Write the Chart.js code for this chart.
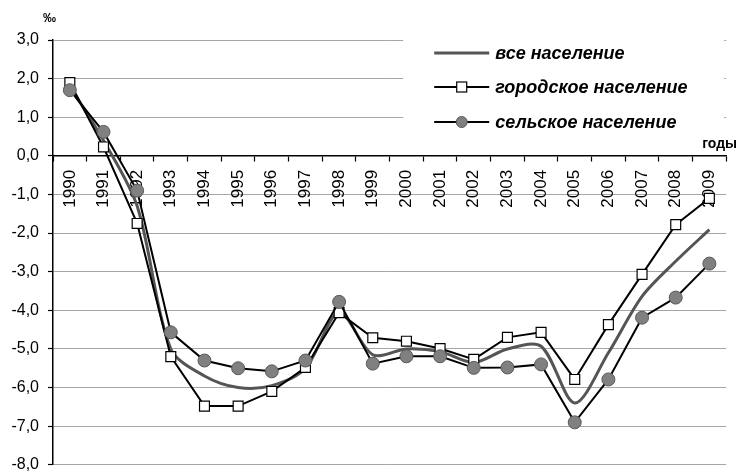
<!DOCTYPE html>
<html>
<head>
<meta charset="utf-8">
<script src="https://cdn.jsdelivr.net/npm/chart.js@4.4.1/dist/chart.umd.min.js"></script>
<style>
  html, body { margin: 0; padding: 0; background: #fff; }
  #wrap { width: 739px; height: 473px; position: relative; }
</style>
</head>
<body>
<div id="wrap"><canvas id="myChart"></canvas></div>
<script>
// data (‰)
const years = ["1990","1991","1992","1993","1994","1995","1996","1997","1998","1999",
               "2000","2001","2002","2003","2004","2005","2006","2007","2008","2009"];
const allPop   = [1.8, 0.4, -1.3, -5.0, -5.7, -6.0, -5.95, -5.5, -4.05, -5.15,
                  -5.0, -5.07, -5.35, -5.0, -4.93, -6.4, -5.1, -3.64, -2.73, -1.91];
const urbanPop = [1.9, 0.23, -1.75, -5.2, -6.48, -6.48, -6.1, -5.48, -4.06, -4.71,
                  -4.8, -4.99, -5.27, -4.7, -4.57, -5.79, -4.37, -3.07, -1.78, -1.1];
const ruralPop = [1.7, 0.62, -0.9, -4.57, -5.3, -5.5, -5.58, -5.3, -3.78, -5.38,
                  -5.19, -5.19, -5.49, -5.48, -5.4, -6.9, -5.79, -4.19, -3.67, -2.79];
const seriesNames = ["все население", "городское население", "сельское население"];

const FONT = "'Liberation Sans', Arial, sans-serif";

const insideLegend = {
  id: "insideLegend",
  afterDatasetsDraw(chart) {
    const ctx = chart.ctx;
    const area = chart.chartArea;
    const x0 = area.right - 323;
    ctx.save();
    ctx.fillStyle = "#fff";
    ctx.fillRect(x0, area.top - 6, 321, 104);

    const rows = [53, 87, 122];
    chart.data.datasets.forEach((ds, i) => {
      const y = rows[i];
      const lx1 = x0 + 31, lx2 = x0 + 86;
      ctx.strokeStyle = ds.borderColor;
      ctx.lineWidth = ds.borderWidth;
      ctx.beginPath();
      ctx.moveTo(lx1, y);
      ctx.lineTo(lx2, y);
      ctx.stroke();
      const cx = (lx1 + lx2) / 2;
      if (ds.pointStyle === "rect") {
        ctx.fillStyle = ds.pointBackgroundColor;
        ctx.fillRect(cx - 5, y - 5, 10, 10);
        ctx.lineWidth = 1.2;
        ctx.strokeStyle = ds.pointBorderColor;
        ctx.strokeRect(cx - 5, y - 5, 10, 10);
      } else if (ds.pointStyle === "circle") {
        ctx.fillStyle = ds.pointBackgroundColor;
        ctx.beginPath();
        ctx.arc(cx, y, 5.5, 0, Math.PI * 2);
        ctx.fill();
        ctx.lineWidth = 1;
        ctx.strokeStyle = ds.pointBorderColor;
        ctx.stroke();
      }
      ctx.fillStyle = "#000";
      ctx.font = "italic bold 18px " + FONT;
      ctx.textBaseline = "middle";
      ctx.textAlign = "left";
      ctx.fillText(ds.label, x0 + 92, y + 1);
    });

    // unit and axis captions
    ctx.font = "bold 13px " + FONT;
    ctx.textAlign = "left";
    ctx.fillText("‰", 43, 18);
    ctx.font = "bold 14px " + FONT;
    ctx.textAlign = "right";
    ctx.fillText("годы", 737, 144);
    ctx.restore();
  }
};

const ctx = document.getElementById("myChart").getContext("2d");
new Chart(ctx, {
  type: "line",
  data: {
    labels: years,
    datasets: [
      {
        label: seriesNames[0],
        data: allPop,
        borderColor: "#555555",
        borderWidth: 3,
        tension: 0.3,
        pointRadius: 0,
        order: 2
      },
      {
        label: seriesNames[1],
        data: urbanPop,
        borderColor: "#000",
        borderWidth: 2,
        tension: 0,
        pointStyle: "rect",
        pointRadius: 7,
        pointBackgroundColor: "#fff",
        pointBorderColor: "#000",
        pointBorderWidth: 1.2,
        order: 1
      },
      {
        label: seriesNames[2],
        data: ruralPop,
        borderColor: "#000",
        borderWidth: 2,
        tension: 0,
        pointStyle: "circle",
        pointRadius: 6.5,
        pointBackgroundColor: "#808080",
        pointBorderColor: "#5a5a5a",
        pointBorderWidth: 1,
        order: 0
      }
    ]
  },
  options: {
    responsive: true,
    maintainAspectRatio: false,
    animation: false,
    layout: { padding: { left: 0, right: 9, top: 40, bottom: 7 } },
    plugins: {
      legend: { display: false },
      tooltip: { enabled: false }
    },
    scales: {
      x: {
        position: { y: 0 },
        offset: true,
        afterFit: (scale) => { scale.height = 0; scale.paddingBottom = 0; scale.paddingTop = 0; },
        grid: {
          offset: true,
          drawOnChartArea: false,
          drawTicks: true,
          tickLength: 5,
          tickColor: "#000",
          tickWidth: 1.2
        },
        border: { color: "#000", width: 1.5 },
        ticks: {
          color: "#000",
          font: { family: FONT, size: 17 },
          minRotation: 90,
          maxRotation: 90,
          autoSkip: false,
          padding: 9
        }
      },
      y: {
        min: -8,
        max: 3,
        afterFit: (scale) => { scale.width = 53; scale.paddingBottom = 0; scale.paddingTop = 0; },
        grid: {
          color: "#a6a6a6",
          lineWidth: 1,
          drawTicks: true,
          tickLength: 5,
          tickColor: "#000",
          tickWidth: 1.2
        },
        border: { color: "#000", width: 1.5 },
        ticks: {
          stepSize: 1,
          color: "#000",
          padding: 9,
          font: { family: FONT, size: 16 },
          callback: (v) => v.toFixed(1).replace(".", ",")
        }
      }
    }
  },
  plugins: [insideLegend]
});
</script>
</body>
</html>
